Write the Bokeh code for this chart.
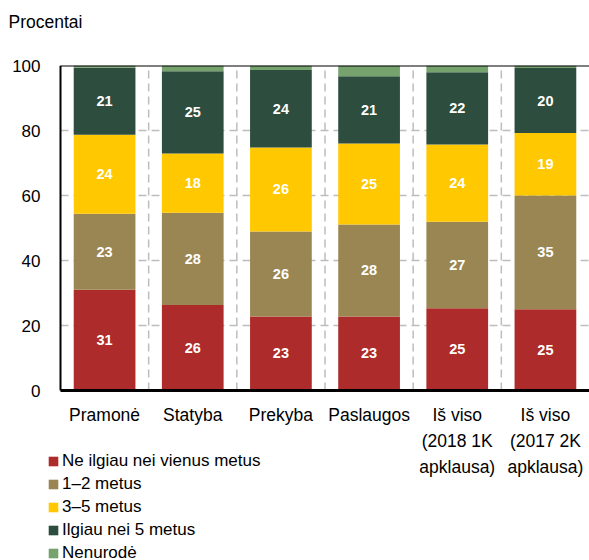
from bokeh.plotting import figure
from bokeh.models import FixedTicker, Legend, LegendItem, ColumnDataSource, Title
from bokeh.core.properties import value
from bokeh.embed import file_html
from bokeh.resources import INLINE

categories = ["Pramonė", "Statyba", "Prekyba", "Paslaugos",
              "Iš viso\n(2018 1K\napklausa)", "Iš viso\n(2017 2K\napklausa)"]
series_names = ["Ne ilgiau nei vienus metus", "1–2 metus", "3–5 metus",
                "Ilgiau nei 5 metus", "Nenurodė"]
colors = ["#AD2B2B", "#9A8653", "#FFC800", "#2D4D3E", "#76A26E"]

ne_ilgiau = [31.0, 26.3, 22.8, 22.8, 25.3, 25.0]
metai_1_2 = [23.4, 28.4, 26.1, 28.3, 26.6, 35.0]
metai_3_5 = [24.3, 18.2, 25.9, 24.9, 23.8, 19.2]
ilgiau_5 = [20.6, 25.3, 23.8, 20.7, 22.2, 20.0]
nenurode = [0.7, 1.8, 1.4, 3.3, 2.1, 0.8]
series = [ne_ilgiau, metai_1_2, metai_3_5, ilgiau_5, nenurode]
labelled = [True, True, True, True, False]

y_ticks = [0, 20, 40, 60, 80, 100]
y_title = "Procentai"

FONT = "Liberation Sans"
n = len(categories)
y_min, y_max = y_ticks[0], y_ticks[-1]

xs = [i + 0.5 for i in range(n)]
keys = ["s%d" % i for i in range(len(series))]
data = {"x": xs}
for k, s in zip(keys, series):
    data[k] = s
src = ColumnDataSource(data)

# frame extends below the plot area so the category labels and legend can live inside it
p = figure(width=589, height=560, x_range=(-0.2268, n), y_range=(-52.3, y_max),
           output_backend="svg", toolbar_location=None, x_axis_location=None, title=None,
           min_border_left=40, min_border_right=0, min_border_top=65, min_border_bottom=0)
p.outline_line_color = None
p.background_fill_color = "white"
p.border_fill_color = "white"
p.xgrid.visible = False
p.ygrid.visible = False

# spacer title (closest to the frame) then the unit title above it
spacer = Title(text=" ", text_font_size="10px", standoff=16, text_font=FONT)
p.add_layout(spacer, "above")
title = Title(text=y_title, align="left", offset=-32, standoff=10, text_font=FONT,
              text_font_size="17.5px", text_font_style="normal", text_color="#000000")
p.add_layout(title, "above")

# dashed grid lines, limited to the plot area
grid_y = [t for t in y_ticks if y_min < t < y_max]
p.segment(x0=[0] * len(grid_y), x1=[n] * len(grid_y), y0=grid_y, y1=grid_y,
          line_color="#BDBDBD", line_dash="8 5", line_width=1.5)
grid_x = list(range(1, n))
p.segment(x0=grid_x, x1=grid_x, y0=[y_min] * len(grid_x), y1=[y_max] * len(grid_x),
          line_color="#BDBDBD", line_dash="8 5", line_width=1.5)

renderers = p.vbar_stack(keys, x="x", width=0.7, color=colors, line_color=None, source=src)

# axis lines of the plot area
p.segment(x0=[0], x1=[n], y0=[y_max], y1=[y_max], line_color="black", line_width=2)
p.segment(x0=[0], x1=[0], y0=[y_min], y1=[y_max], line_color="black", line_width=2)
p.segment(x0=[0], x1=[n], y0=[y_min], y1=[y_min], line_color="black", line_width=3)

# segment labels
tx, ty, tt = [], [], []
cum = [0.0] * n
for s, lab in zip(series, labelled):
    for i, v in enumerate(s):
        if lab:
            tx.append(xs[i])
            ty.append(cum[i] + v / 2)
            tt.append(str(int(round(v))))
        cum[i] += v
p.text(x=tx, y=ty, text=tt, text_align="center", text_baseline="middle",
       text_color="white", text_font_style="bold", text_font_size="14.5px",
       text_font=value(FONT))

# category labels
p.text(x=xs, y=[y_min] * n, text=categories, text_align="center", text_baseline="top",
       y_offset=14, text_color="black", text_font_size="17.5px", text_line_height=1.3,
       text_font=value(FONT))

# y axis (labels only)
p.yaxis.ticker = FixedTicker(ticks=y_ticks)
p.yaxis.major_tick_line_color = None
p.yaxis.minor_tick_line_color = None
p.yaxis.major_tick_out = 0
p.yaxis.major_tick_in = 0
p.yaxis.axis_line_color = None
p.yaxis.major_label_text_font = FONT
p.yaxis.major_label_text_font_size = "17px"
p.yaxis.major_label_text_color = "black"
p.yaxis.major_label_standoff = 0

legend = Legend(items=[LegendItem(label=nm, renderers=[r]) for nm, r in zip(series_names, renderers)],
                location=(7, -3), orientation="vertical",
                glyph_width=12, glyph_height=12, label_height=20, spacing=3,
                label_standoff=3, padding=0, margin=0,
                border_line_color=None, background_fill_alpha=0,
                label_text_font=FONT, label_text_font_size="17px", label_text_color="black")
p.add_layout(legend, "center")

open("out.html", "w").write(file_html(p, INLINE))
